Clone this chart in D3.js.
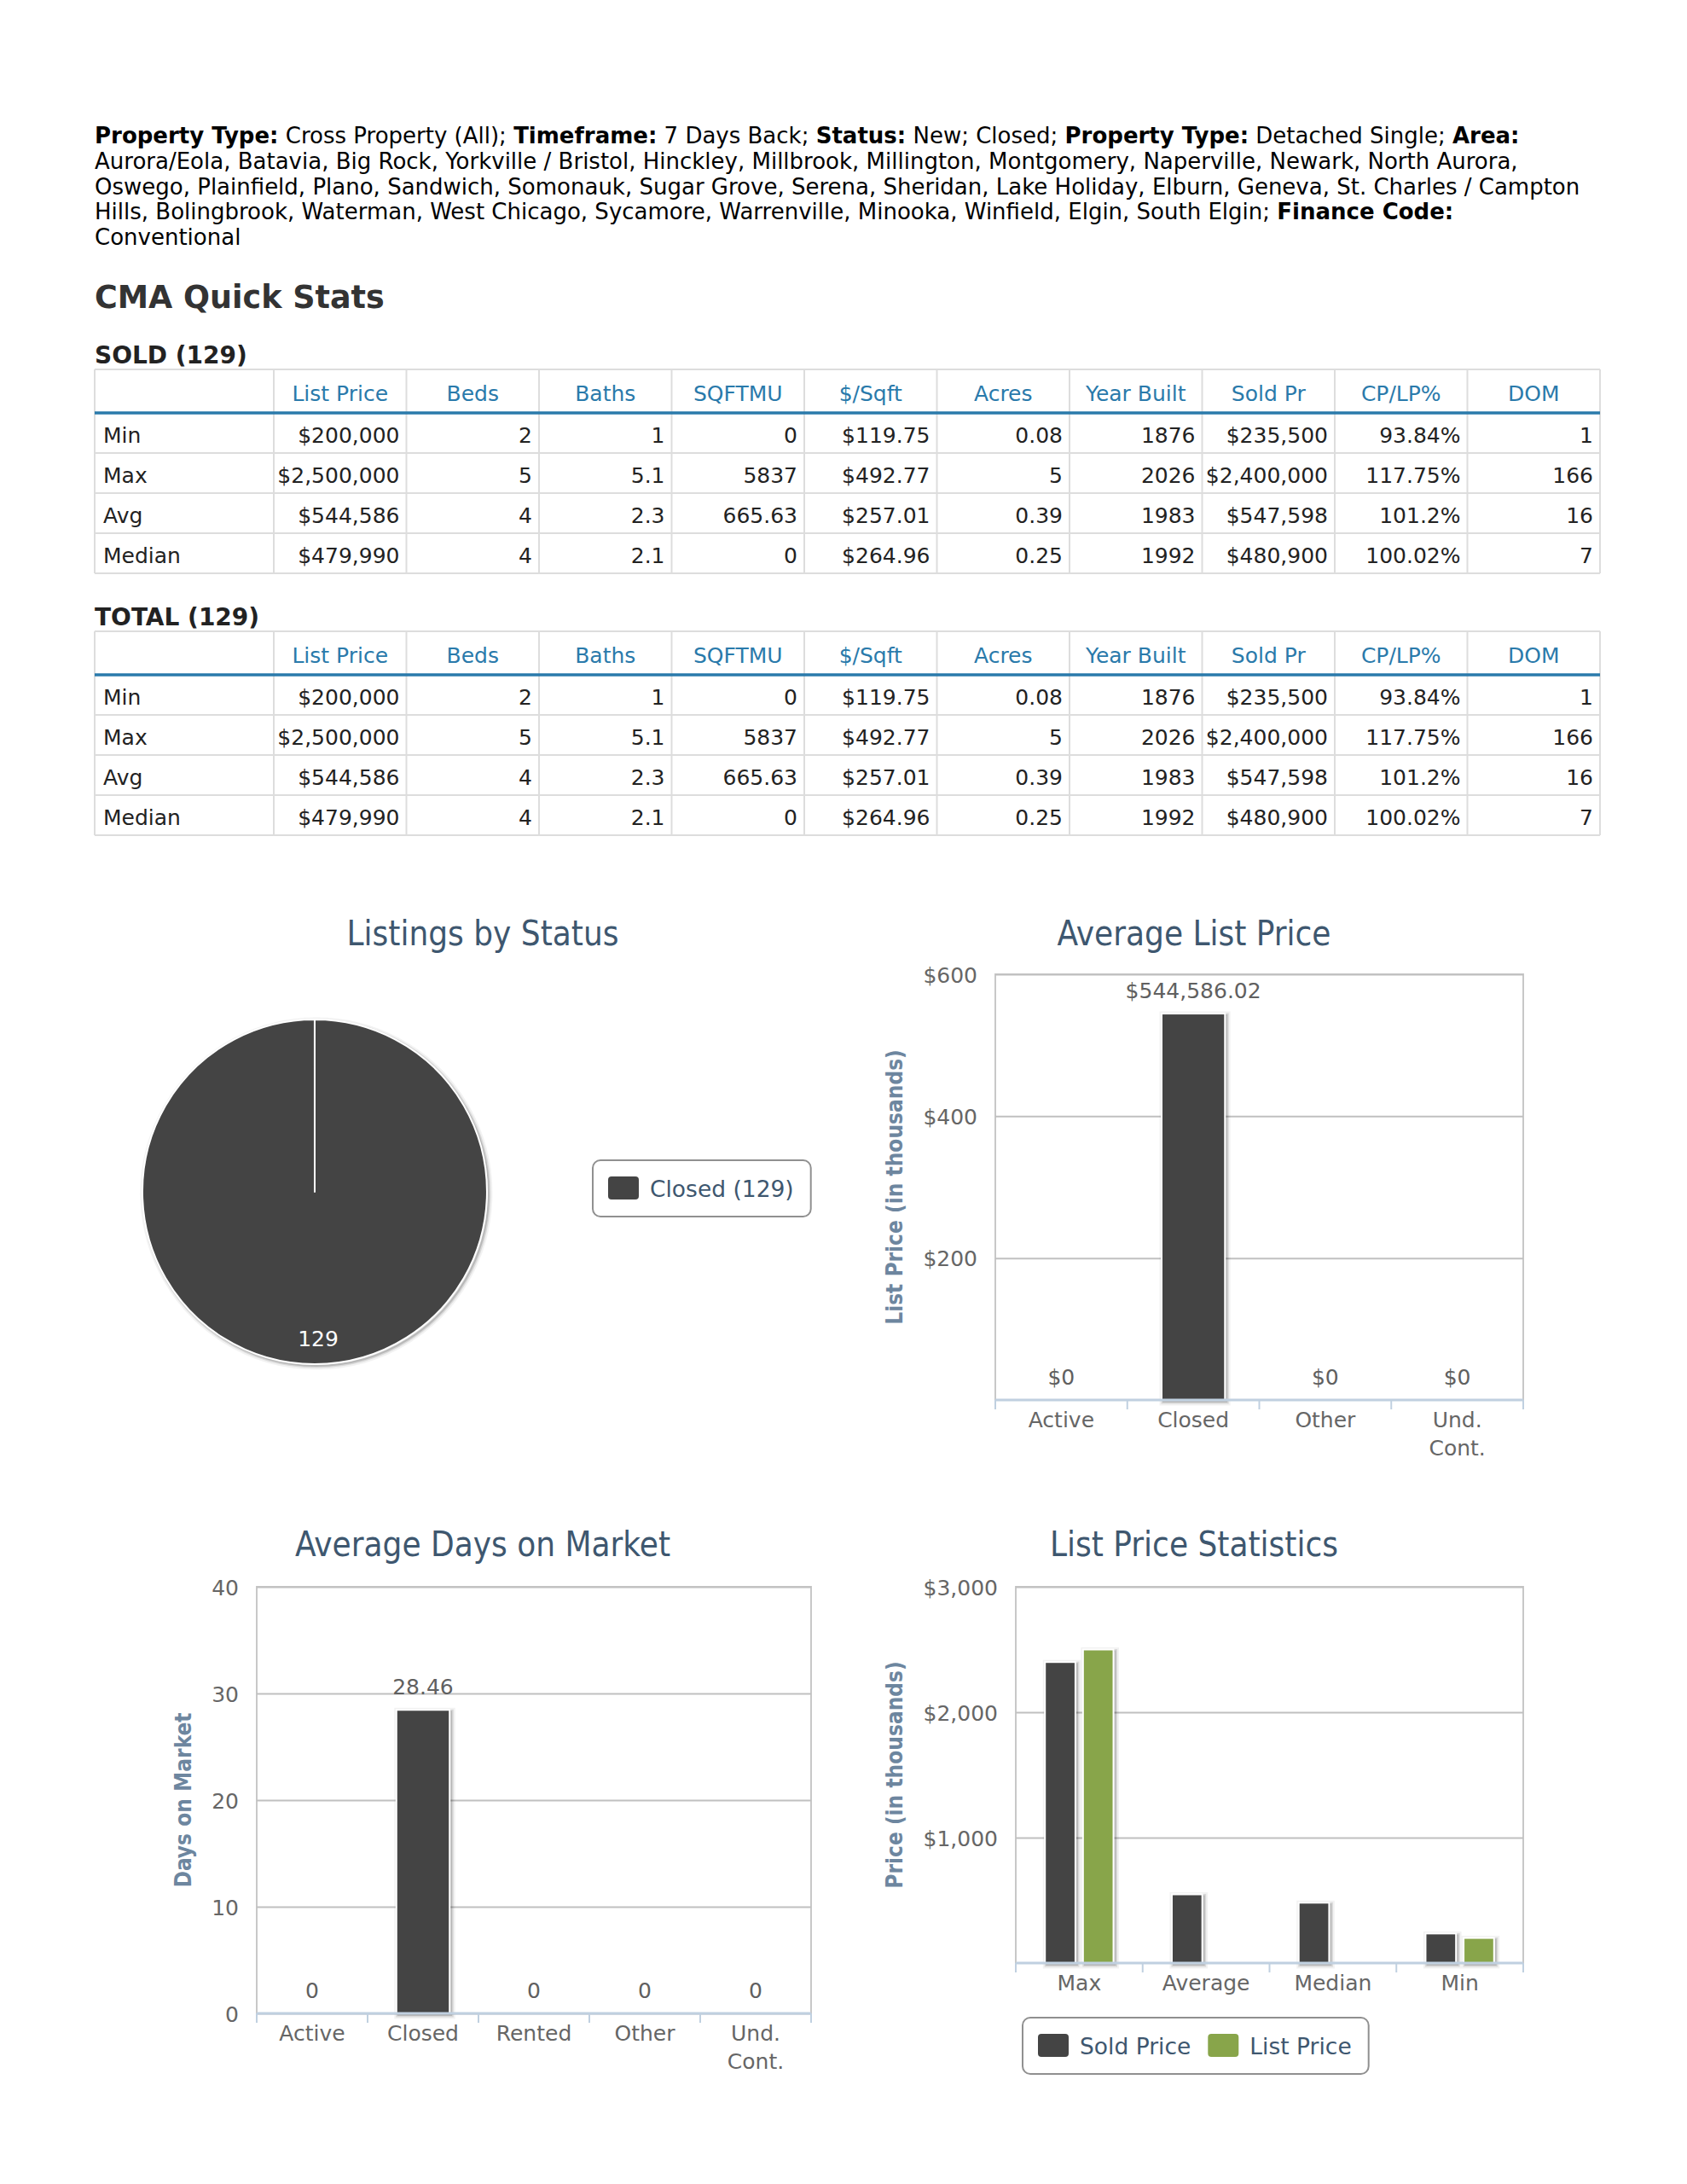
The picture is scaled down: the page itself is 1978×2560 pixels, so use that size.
<!DOCTYPE html>
<html>
<head>
<meta charset="utf-8">
<script src="https://cdnjs.cloudflare.com/ajax/libs/d3/7.8.5/d3.min.js"></script>
<style>
  html, body { margin: 0; padding: 0; background: #fff; }
  svg { display: block; }
  text { white-space: pre; }
</style>
</head>
<body>
<svg id="page" width="1978" height="2560"></svg>
<script>
// ---- data ----
const filterLines = [
  [["Property Type:", true], [" Cross Property (All); ", false], ["Timeframe:", true], [" 7 Days Back; ", false],
   ["Status:", true], [" New; Closed; ", false], ["Property Type:", true], [" Detached Single; ", false], ["Area:", true]],
  [["Aurora/Eola, Batavia, Big Rock, Yorkville / Bristol, Hinckley, Millbrook, Millington, Montgomery, Naperville, Newark, North Aurora,", false]],
  [["Oswego, Plainfield, Plano, Sandwich, Somonauk, Sugar Grove, Serena, Sheridan, Lake Holiday, Elburn, Geneva, St. Charles / Campton", false]],
  [["Hills, Bolingbrook, Waterman, West Chicago, Sycamore, Warrenville, Minooka, Winfield, Elgin, South Elgin; ", false], ["Finance Code:", true]],
  [["Conventional", false]]
];

const statColumns = ["List Price", "Beds", "Baths", "SQFTMU", "$/Sqft", "Acres", "Year Built", "Sold Pr", "CP/LP%", "DOM"];
const statRowLabels = ["Min", "Max", "Avg", "Median"];
const soldRows = [
  ["$200,000", "2", "1", "0", "$119.75", "0.08", "1876", "$235,500", "93.84%", "1"],
  ["$2,500,000", "5", "5.1", "5837", "$492.77", "5", "2026", "$2,400,000", "117.75%", "166"],
  ["$544,586", "4", "2.3", "665.63", "$257.01", "0.39", "1983", "$547,598", "101.2%", "16"],
  ["$479,990", "4", "2.1", "0", "$264.96", "0.25", "1992", "$480,900", "100.02%", "7"]
];
const totalRows = [
  ["$200,000", "2", "1", "0", "$119.75", "0.08", "1876", "$235,500", "93.84%", "1"],
  ["$2,500,000", "5", "5.1", "5837", "$492.77", "5", "2026", "$2,400,000", "117.75%", "166"],
  ["$544,586", "4", "2.3", "665.63", "$257.01", "0.39", "1983", "$547,598", "101.2%", "16"],
  ["$479,990", "4", "2.1", "0", "$264.96", "0.25", "1992", "$480,900", "100.02%", "7"]
];

const statusNames = ["Closed"];
const statusCounts = [129];

const listCategories = ["Active", "Closed", "Other", "Und. Cont."];
const avgListPrice = [0, 544586.02, 0, 0];

const domCategories = ["Active", "Closed", "Rented", "Other", "Und. Cont."];
const avgDom = [0, 28.46, 0, 0, 0];

const priceStatCategories = ["Max", "Average", "Median", "Min"];
const soldPriceStats = [2400000, 547598, 480900, 235500];
const listPriceStats = [2500000, null, null, 200000];

// ---- page ----
const svg = d3.select("#page");
const SANS = "'DejaVu Sans', Verdana, sans-serif";
const COND = "'DejaVu Sans Condensed', 'DejaVu Sans', sans-serif";

svg.append("rect").attr("width", 1978).attr("height", 2560).attr("fill", "#fff");

// filter description
const filterText = svg.append("text")
  .attr("font-family", SANS)
  .attr("font-size", 26)
  .attr("fill", "#000");
filterLines.forEach((line, i) => {
  line.forEach(([txt, bold], j) => {
    const ts = filterText.append("tspan").text(txt)
      .attr("font-weight", bold ? "bold" : "normal");
    if (j === 0) ts.attr("x", 111).attr("y", 168 + i * 29.8);
  });
});

svg.append("text")
  .attr("x", 111).attr("y", 361)
  .attr("font-family", SANS).attr("font-weight", "bold")
  .attr("font-size", 36.5).attr("fill", "#333")
  .text("CMA Quick Stats");

// stats tables
const tableLeft = 111, firstColW = 210, colW = 155.5;
const headH = 51, rowH = 47;
const colEdges = [tableLeft].concat(d3.range(statColumns.length + 1).map(i => tableLeft + firstColW + i * colW));

function drawTable(title, top, rows) {
  const g = svg.append("g");
  g.append("text")
    .attr("x", tableLeft).attr("y", top - 7)
    .attr("font-family", SANS).attr("font-weight", "bold")
    .attr("font-size", 28).attr("fill", "#222")
    .text(title);

  const bottom = top + headH + rows.length * rowH;
  const right = colEdges[colEdges.length - 1];

  // grid
  g.selectAll("line.v").data(colEdges).join("line")
    .attr("x1", d => d).attr("x2", d => d)
    .attr("y1", top).attr("y2", bottom)
    .attr("stroke", "#dddddd").attr("stroke-width", 2);
  const hLines = [top].concat(d3.range(1, rows.length + 1).map(i => top + headH + i * rowH));
  g.selectAll("line.h").data(hLines).join("line")
    .attr("x1", tableLeft).attr("x2", right)
    .attr("y1", d => d).attr("y2", d => d)
    .attr("stroke", "#dddddd").attr("stroke-width", 2);
  g.append("line")
    .attr("x1", tableLeft).attr("x2", right)
    .attr("y1", top + headH).attr("y2", top + headH)
    .attr("stroke", "#2a7aab").attr("stroke-width", 3.5);

  // header cells
  g.selectAll("text.head").data(statColumns).join("text")
    .attr("x", (d, i) => (colEdges[i + 1] + colEdges[i + 2]) / 2)
    .attr("y", top + headH / 2 + 2)
    .attr("dy", "0.36em")
    .attr("text-anchor", "middle")
    .attr("font-family", SANS).attr("font-size", 25)
    .attr("fill", "#2a7aab")
    .text(d => d);

  // body
  rows.forEach((row, r) => {
    const cy = top + headH + r * rowH + rowH / 2 + 2;
    g.append("text")
      .attr("x", tableLeft + 10).attr("y", cy).attr("dy", "0.36em")
      .attr("font-family", SANS).attr("font-size", 25).attr("fill", "#222")
      .text(statRowLabels[r]);
    g.selectAll(null).data(row).join("text")
      .attr("x", (d, i) => colEdges[i + 2] - 8)
      .attr("y", cy).attr("dy", "0.36em")
      .attr("text-anchor", "end")
      .attr("font-family", SANS).attr("font-size", 25).attr("fill", "#222")
      .text(d => d);
  });
}

drawTable("SOLD (129)", 433, soldRows);
drawTable("TOTAL (129)", 740, totalRows);

// ---- chart helpers ----
const TITLE_COLOR = "#3E576F";
const LABEL_COLOR = "#666666";
const AXIS_TITLE_COLOR = "#6D869F";

function chartTitle(text, cx, cy) {
  svg.append("text")
    .attr("x", cx).attr("y", cy).attr("dy", "0.36em")
    .attr("text-anchor", "middle")
    .attr("font-family", COND).attr("font-size", 40)
    .attr("fill", TITLE_COLOR)
    .text(text);
}

function addShadow(sel, pathFn) {
  [[9, 0.05], [5, 0.1], [2, 0.15]].forEach(([w, o]) => {
    sel.append("path")
      .attr("d", pathFn)
      .attr("transform", "translate(2,2)")
      .attr("fill", "none")
      .attr("stroke", "#000")
      .attr("stroke-opacity", o)
      .attr("stroke-width", w);
  });
}

function drawLegend(items, box) {
  const g = svg.append("g");
  const rect = g.append("rect")
    .attr("x", box.x).attr("y", box.y)
    .attr("width", 10).attr("height", box.h)
    .attr("rx", 9)
    .attr("fill", "#fff").attr("stroke", "#909090").attr("stroke-width", 2);
  let x = box.x + 18;
  const cy = box.y + box.h / 2;
  items.forEach(it => {
    g.append("rect")
      .attr("x", x).attr("y", cy - 14)
      .attr("width", 36).attr("height", 27).attr("rx", 4)
      .attr("fill", it.color);
    const t = g.append("text")
      .attr("x", x + 49).attr("y", cy).attr("dy", "0.36em")
      .attr("font-family", SANS).attr("font-size", 26.5)
      .attr("fill", TITLE_COLOR)
      .text(it.label);
    x += 49 + t.node().getComputedTextLength() + 20;
  });
  rect.attr("width", x - box.x);
}

function wrapLabel(textSel, maxW) {
  textSel.each(function () {
    const t = d3.select(this);
    const words = t.text().split(" ");
    if (words.length < 2 || this.getComputedTextLength() <= maxW) return;
    const y = t.attr("y");
    t.text(null);
    words.forEach((w, i) => {
      t.append("tspan").attr("x", 0).attr("y", y)
        .attr("dy", (0.71 + i * 1.32) + "em").text(w);
    });
  });
}

function barChart(cfg) {
  const { left, right, top, bottom, categories, series, yMax, yTicks, yFmt,
          labelFmt, axisTitle, title, titleX, titleY, legend } = cfg;
  const g = svg.append("g");

  const x = d3.scaleBand().domain(categories).range([left, right]);
  const xs = d3.scaleBand().domain(d3.range(series.length))
    .range([0.2 * x.bandwidth(), 0.8 * x.bandwidth()])
    .paddingInner(0.2).paddingOuter(0.1);
  const y = d3.scaleLinear().domain([0, yMax]).range([bottom, top]);

  // plot frame and grid
  g.append("rect")
    .attr("x", left).attr("y", top)
    .attr("width", right - left).attr("height", bottom - top)
    .attr("fill", "#fff").attr("stroke", "#C8C8C8").attr("stroke-width", 2);

  const grid = g.append("g")
    .attr("transform", `translate(${left},0)`)
    .call(d3.axisLeft(y).tickValues(yTicks).tickSize(-(right - left)).tickFormat(""));
  grid.select(".domain").remove();
  grid.selectAll("line").attr("stroke", "#C0C0C0").attr("stroke-width", 2);

  // y labels
  const yAxis = g.append("g")
    .attr("transform", `translate(${left},0)`)
    .call(d3.axisLeft(y).tickValues(yTicks).tickSize(0).tickPadding(21).tickFormat(yFmt));
  yAxis.select(".domain").remove();
  yAxis.selectAll("text")
    .attr("font-family", SANS).attr("font-size", 25)
    .attr("fill", LABEL_COLOR).attr("dy", "0.36em");

  // axis title
  const labW = d3.max(yAxis.selectAll("text").nodes(), n => n.getComputedTextLength());
  const tx = left - 21 - labW - 34;
  g.append("text")
    .attr("transform", `translate(${tx},${(top + bottom) / 2}) rotate(-90)`)
    .attr("dy", "0.36em")
    .attr("text-anchor", "middle")
    .attr("font-family", COND).attr("font-weight", "bold").attr("font-size", 26)
    .attr("fill", AXIS_TITLE_COLOR)
    .text(axisTitle);

  // bars
  series.forEach((s, si) => {
    const pts = s.values.map((v, i) => ({ cat: categories[i], v }))
      .filter(d => d.v !== null);
    const bx = d => x(d.cat) + xs(si);
    const bw = xs.bandwidth();
    const barPath = d => `M${bx(d)},${bottom}V${y(d.v)}H${bx(d) + bw}V${bottom}Z`;
    pts.filter(d => d.v > 0).forEach(d => {
      addShadow(g, barPath(d));
    });
    g.selectAll(null).data(pts.filter(d => d.v > 0)).join("rect")
      .attr("x", bx).attr("y", d => y(d.v))
      .attr("width", bw).attr("height", d => bottom - y(d.v))
      .attr("fill", s.color).attr("stroke", "#fff").attr("stroke-width", 2);

    if (labelFmt) {
      g.selectAll(null).data(pts).join("text")
        .attr("x", d => bx(d) + bw / 2)
        .attr("y", d => y(d.v) - 27).attr("dy", "0.36em")
        .attr("text-anchor", "middle")
        .attr("font-family", SANS).attr("font-size", 25)
        .attr("fill", "#606060")
        .text(d => labelFmt(d.v));
    }
  });

  // x axis
  const xAxis = g.append("g")
    .attr("transform", `translate(0,${bottom})`)
    .call(d3.axisBottom(x).tickSize(0).tickPadding(14));
  xAxis.select(".domain").remove();
  xAxis.selectAll("text")
    .attr("font-family", SANS).attr("font-size", 25)
    .attr("fill", LABEL_COLOR);
  wrapLabel(xAxis.selectAll("text"), x.bandwidth() * 0.75);

  const edges = categories.map(c => x(c)).concat([right]);
  g.selectAll(null).data(edges).join("line")
    .attr("x1", d => d).attr("x2", d => d)
    .attr("y1", bottom).attr("y2", bottom + 11)
    .attr("stroke", "#C0D0E0").attr("stroke-width", 2);
  g.append("line")
    .attr("x1", left).attr("x2", right)
    .attr("y1", bottom).attr("y2", bottom)
    .attr("stroke", "#C0D0E0").attr("stroke-width", 3);

  chartTitle(title, titleX, titleY);

  if (legend) drawLegend(series.map(s => ({ label: s.name, color: s.color })), legend);
}

// ---- Listings by Status (pie) ----
chartTitle("Listings by Status", 566, 1094);
{
  const cx = 369, cy = 1397, r = 202;
  const g = svg.append("g").attr("transform", `translate(${cx},${cy})`);
  const pie = d3.pie().sort(null).endAngle(2 * Math.PI - 0.0004);
  const arcs = pie(statusCounts);
  const arc = d3.arc().innerRadius(0).outerRadius(r);
  const labelArc = d3.arc().innerRadius(172).outerRadius(172);
  arcs.forEach(a => addShadow(g, arc(a)));
  g.selectAll("path.slice").data(arcs).join("path")
    .attr("class", "slice")
    .attr("d", arc)
    .attr("fill", "#444444")
    .attr("stroke", "#fff").attr("stroke-width", 2).attr("stroke-linejoin", "round");
  g.selectAll("text").data(arcs).join("text")
    .attr("transform", d => `translate(${labelArc.centroid(d)})`)
    .attr("dx", 4)
    .attr("dy", "0.36em")
    .attr("text-anchor", "middle")
    .attr("font-family", SANS).attr("font-size", 25)
    .attr("fill", "#fff")
    .text(d => d.data);
  drawLegend(statusNames.map((n, i) => ({ label: `${n} (${statusCounts[i]})`, color: "#444444" })),
    { x: 695, y: 1360, h: 66 });
}

// ---- Average List Price ----
barChart({
  left: 1167, right: 1786, top: 1142, bottom: 1641,
  categories: listCategories,
  series: [{ name: "List Price", values: avgListPrice, color: "#444444" }],
  yMax: 600000, yTicks: [200000, 400000, 600000],
  yFmt: d => "$" + d3.format(",")(d / 1000),
  labelFmt: v => v === 0 ? "$0" : "$" + d3.format(",.2f")(v),
  axisTitle: "List Price (in thousands)",
  title: "Average List Price", titleX: 1400, titleY: 1094
});

// ---- Average Days on Market ----
barChart({
  left: 301, right: 951, top: 1860, bottom: 2360,
  categories: domCategories,
  series: [{ name: "Days on Market", values: avgDom, color: "#444444" }],
  yMax: 40, yTicks: [0, 10, 20, 30, 40],
  yFmt: d => d3.format("d")(d),
  labelFmt: v => v === 0 ? "0" : d3.format(".2f")(v),
  axisTitle: "Days on Market",
  title: "Average Days on Market", titleX: 566, titleY: 1810
});

// ---- List Price Statistics ----
barChart({
  left: 1191, right: 1786, top: 1860, bottom: 2301,
  categories: priceStatCategories,
  series: [
    { name: "Sold Price", values: soldPriceStats, color: "#444444" },
    { name: "List Price", values: listPriceStats, color: "#88A54A" }
  ],
  yMax: 3000000, yTicks: [1000000, 2000000, 3000000],
  yFmt: d => "$" + d3.format(",")(d / 1000),
  labelFmt: null,
  axisTitle: "Price (in thousands)",
  title: "List Price Statistics", titleX: 1400, titleY: 1810,
  legend: { x: 1199, y: 2365, h: 66 }
});
</script>
</body>
</html>
